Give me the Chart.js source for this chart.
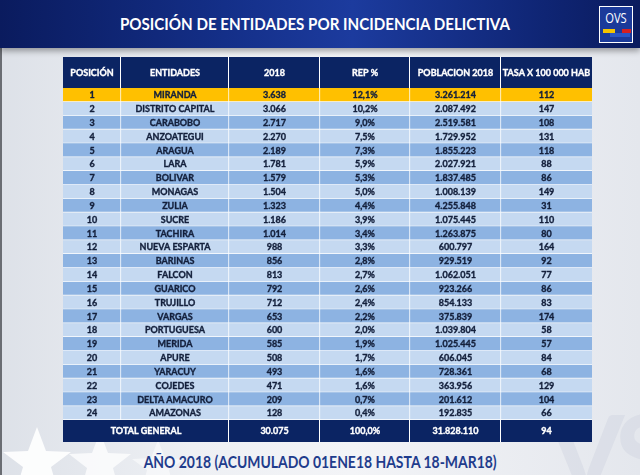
<!DOCTYPE html>
<html>
<head>
<meta charset="utf-8">
<script src="https://cdn.jsdelivr.net/npm/chart.js@4"></script>
<style>
  html, body { margin: 0; padding: 0; }
  body { width: 640px; height: 475px; overflow: hidden; position: relative;
    font-family: Lato, "Open Sans", sans-serif;
    background: linear-gradient(90deg, #dde1e8 0%, #eef0f4 30%, #f3f4f7 55%, #e4e7ed 100%); }
  .edge { position: absolute; left: 0; top: 0; width: 2px; height: 475px; background: #6a6d73; }
  .band { position: absolute; left: 0; top: 0; width: 640px; height: 48px;
    background: linear-gradient(90deg, #0a1b5e 0%, #142f88 35%, #1c3b9e 55%, #0f2574 85%, #0a1b5e 100%);
    box-shadow: 0 3px 6px rgba(0,0,0,0.35); }
  .title { position: absolute; left: 0; width: 630px; top: 13px; text-align: center;
    color: #fff; font-size: 17px; font-weight: 700; transform: scaleX(0.89); transform-origin: 315px 0; }
  .logo { position: absolute; left: 599px; top: 6px; width: 32px; height: 35px;
    border: 1.5px solid #fff; background: #1b3a9a; overflow: hidden; }
  .logo span { position: absolute; left: 0; width: 32px; top: 1px; text-align: center;
    color: #fff; font-size: 14px; font-family: "Open Sans", sans-serif; transform: scaleX(0.8); }
  .logo i { position: absolute; height: 4px; }
  .footer { position: absolute; left: 0; width: 640px; top: 451px; text-align: center;
    color: #1f3c8c; font-size: 17px; font-weight: 700; transform: scaleX(0.82); transform-origin: 321px 0; }
  .wm { position: absolute; left: 548px; top: 385px; font-size: 110px; font-weight: 700;
    color: rgba(210,214,225,0.5); letter-spacing: -8px; }
  canvas { position: absolute; left: 0; top: 0; }
</style>
</head>
<body>
<div class="edge"></div>
<div class="wm">VS</div>
<svg style="position:absolute;left:0;top:0" width="640" height="475">
  <polygon points="37,427 46,451 71,452 51,467 58,491 37,477 16,491 23,467 3,452 28,451" fill="#ffffff" opacity="0.9"/>
  <polygon points="100,432 108,453 131,454 113,468 119,490 100,477 81,490 87,468 69,454 92,453" fill="#ffffff" opacity="0.75"/>
  <polygon points="158,440 165,458 184,459 169,470 174,489 158,478 142,489 147,470 132,459 151,458" fill="#ffffff" opacity="0.5"/>
</svg>
<div class="band"></div>
<div class="title">POSICIÓN DE ENTIDADES POR INCIDENCIA DELICTIVA</div>
<div class="logo">
  <span>OVS</span>
  <i style="left:3px;top:22px;width:12px;background:#f5c400"></i>
  <i style="left:10px;top:26px;width:20px;background:#2a56c6"></i>
  <i style="left:22px;top:22px;width:9px;background:#d62020"></i>
</div>
<div class="footer">AÑO 2018 (ACUMULADO 01ENE18 HASTA 18-MAR18)</div>
<canvas id="tabla" width="640" height="475"></canvas>
<script>
const headers = ["POSICIÓN", "ENTIDADES", "2018", "REP %", "POBLACION 2018", "TASA X 100 000 HAB"];

const posiciones = ["1", "2", "3", "4", "5", "6", "7", "8", "9", "10", "11", "12",
  "13", "14", "15", "16", "17", "18", "19", "20", "21", "22", "23", "24"];

const entidades = ["MIRANDA", "DISTRITO CAPITAL", "CARABOBO", "ANZOATEGUI", "ARAGUA", "LARA",
  "BOLIVAR", "MONAGAS", "ZULIA", "SUCRE", "TACHIRA", "NUEVA ESPARTA", "BARINAS", "FALCON",
  "GUARICO", "TRUJILLO", "VARGAS", "PORTUGUESA", "MERIDA", "APURE", "YARACUY", "COJEDES",
  "DELTA AMACURO", "AMAZONAS"];

const casos2018 = [3638, 3066, 2717, 2270, 2189, 1781, 1579, 1504, 1323, 1186, 1014, 988,
  856, 813, 792, 712, 653, 600, 585, 508, 493, 471, 209, 128];

const repPct = [12.1, 10.2, 9.0, 7.5, 7.3, 5.9, 5.3, 5.0, 4.4, 3.9, 3.4, 3.3,
  2.8, 2.7, 2.6, 2.4, 2.2, 2.0, 1.9, 1.7, 1.6, 1.6, 0.7, 0.4];

const poblacion = [3261214, 2087492, 2519581, 1729952, 1855223, 2027921, 1837485, 1008139,
  4255848, 1075445, 1263875, 600797, 929519, 1062051, 923266, 854133, 375839, 1039804,
  1025445, 606045, 728361, 363956, 201612, 192835];

const tasa = [112, 147, 108, 131, 118, 88, 86, 149, 31, 110, 80, 164,
  92, 77, 86, 83, 174, 58, 57, 84, 68, 129, 104, 66];

const totalLabel = "TOTAL GENERAL";
const totales = [30075, 100.0, 31828110, 94];

// column widths in px (layout only)
const colWidths = [58, 108, 91, 90, 91, 91];

const num = (n) => String(n).replace(/\B(?=(\d{3})+(?!\d))/g, ".");
const pct = (v) => v.toFixed(1).replace(".", ",") + "%";

const columnas = [
  posiciones,
  entidades,
  casos2018.map(num),
  repPct.map(pct),
  poblacion.map(num),
  tasa.map(String),
];

const NAVY = "#0b2463";
const rowColor = (i) => (i === 0 ? "#ffc000" : i % 2 === 1 ? "#c5d9f1" : "#8db3e2");
const FONT = "bold 9px Lato, 'Open Sans', sans-serif";

// bold text with a thin outline, closer to the heavy original font
function boldText(ctx, txt, x, y, color) {
  ctx.fillStyle = color;
  ctx.strokeStyle = color;
  ctx.lineWidth = 0.35;
  ctx.fillText(txt, x, y);
  ctx.strokeText(txt, x, y);
}

const tablePlugin = {
  id: "tabla",
  afterDatasetsDraw(chart) {
    const { ctx, chartArea, scales } = chart;
    const x = scales.x;
    const edges = [0];
    colWidths.forEach((w) => edges.push(edges[edges.length - 1] + w));
    const px = edges.map((e) => x.getPixelForValue(e));

    ctx.save();
    ctx.font = FONT;
    ctx.textAlign = "center";
    ctx.textBaseline = "middle";

    // cell texts
    chart.data.datasets.forEach((ds, c) => {
      chart.getDatasetMeta(c).data.forEach((el, r) => {
        const p = el.getProps(["x", "y", "base"], true);
        boldText(ctx, columnas[c][r], (p.x + p.base) / 2, p.y + 0.5, "#14203c");
      });
    });

    // header row
    const hTop = chartArea.top - 31;
    ctx.fillStyle = NAVY;
    ctx.fillRect(px[0], hTop, px[px.length - 1] - px[0], 31);
    ctx.strokeStyle = "#ffffff";
    ctx.lineWidth = 1;
    for (let i = 1; i < px.length - 1; i++) {
      ctx.beginPath();
      ctx.moveTo(Math.round(px[i]) - 0.5, hTop);
      ctx.lineTo(Math.round(px[i]) - 0.5, chartArea.top);
      ctx.stroke();
    }
    headers.forEach((h, i) => boldText(ctx, h, (px[i] + px[i + 1]) / 2, hTop + 16, "#ffffff"));

    // total row
    const tTop = chartArea.bottom;
    const tH = 22;
    ctx.fillStyle = NAVY;
    ctx.fillRect(px[0], tTop, px[px.length - 1] - px[0], tH);
    ctx.strokeStyle = "#ffffff";
    ctx.lineWidth = 1;
    for (let i = 2; i < px.length - 1; i++) {
      ctx.beginPath();
      ctx.moveTo(Math.round(px[i]) - 0.5, tTop);
      ctx.lineTo(Math.round(px[i]) - 0.5, tTop + tH);
      ctx.stroke();
    }
    const ty = tTop + tH / 2 + 0.5;
    boldText(ctx, totalLabel, (px[0] + px[2]) / 2, ty, "#ffffff");
    boldText(ctx, num(totales[0]), (px[2] + px[3]) / 2, ty, "#ffffff");
    boldText(ctx, pct(totales[1]), (px[3] + px[4]) / 2, ty, "#ffffff");
    boldText(ctx, num(totales[2]), (px[4] + px[5]) / 2, ty, "#ffffff");
    boldText(ctx, String(totales[3]), (px[5] + px[6]) / 2, ty, "#ffffff");
    ctx.restore();
  },
};

const datasets = colWidths.map((w, c) => ({
  label: headers[c],
  data: posiciones.map(() => w),
  backgroundColor: posiciones.map((_, i) => rowColor(i)),
  borderColor: "#ffffff",
  borderWidth: { top: 0, left: 0, right: c < colWidths.length - 1 ? 1 : 0, bottom: 1 },
  borderSkipped: false,
  barPercentage: 1,
  categoryPercentage: 1,
}));

const ctx = document.getElementById("tabla").getContext("2d");
new Chart(ctx, {
  type: "bar",
  data: { labels: posiciones, datasets },
  options: {
    indexAxis: "y",
    responsive: false,
    animation: false,
    layout: { padding: { top: 88, bottom: 55, left: 63, right: 48 } },
    scales: {
      x: { stacked: true, min: 0, max: 529, display: false },
      y: { stacked: true, display: false },
    },
    plugins: {
      legend: { display: false },
      tooltip: { enabled: false },
    },
  },
  plugins: [tablePlugin],
});
</script>
</body>
</html>
